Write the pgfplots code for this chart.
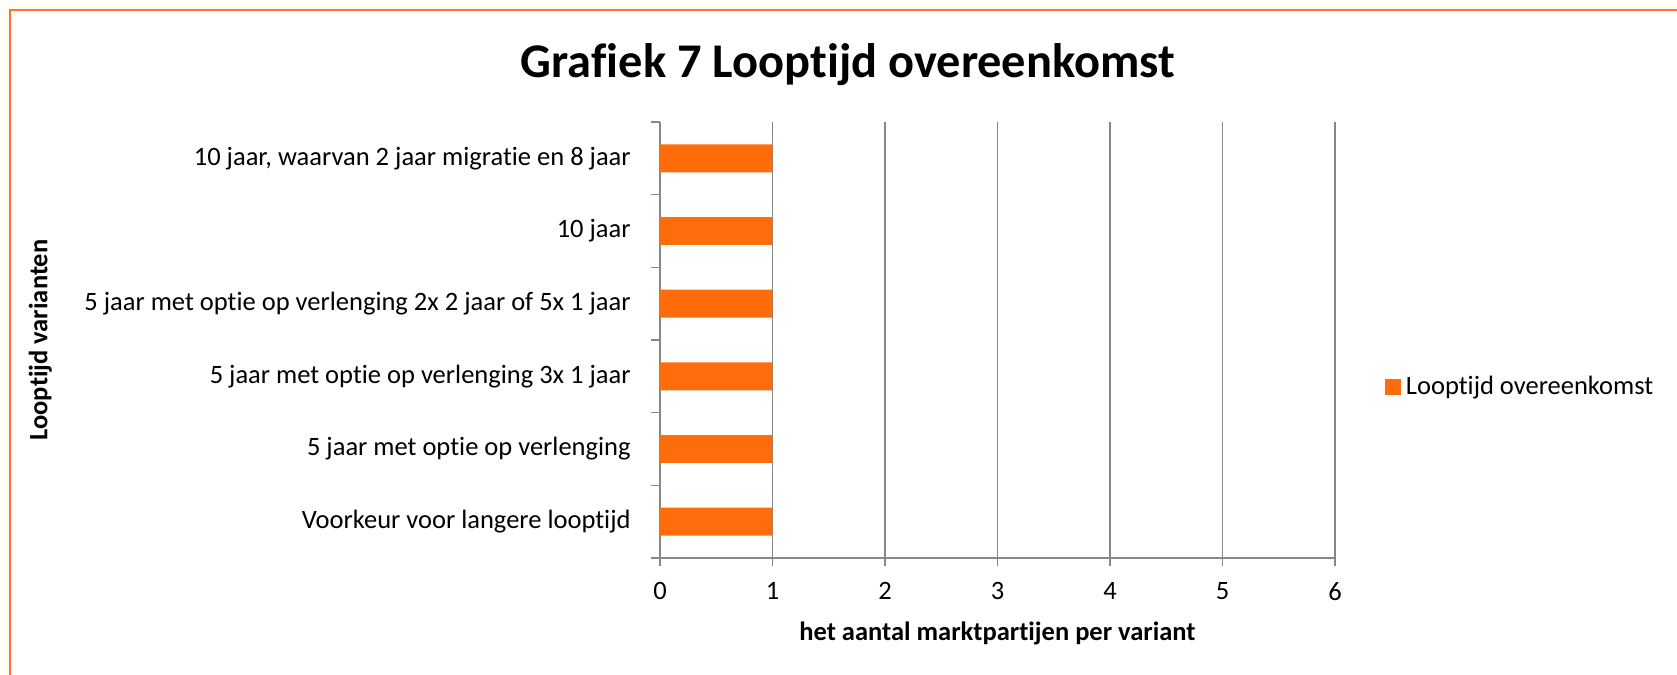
\documentclass[border=0pt]{standalone}
\usepackage{pgfplots}
\pgfplotsset{compat=1.18}
\usepackage{fontspec}
\setmainfont{Carlito}[Ligatures=NoCommon]
\definecolor{barorange}{HTML}{FF6C0C}
\definecolor{frameorange}{HTML}{FF7420}
\definecolor{gridgray}{HTML}{878787}
\begin{document}
\begin{tikzpicture}[x=0.5pt,y=-0.5pt]
\path[use as bounding box] (0,0) rectangle (1677,675);
\draw[frameorange, line width=1.1pt] (10,676) -- (10,10) -- (1678,10);
\coordinate (A) at (660,558);
\begin{axis}[
  at={(A)}, anchor=south west,
  scale only axis, width=337.5pt, height=218pt,
  xbar, bar width=0.385, bar shift=0pt,
  xmin=0, xmax=6, ymin=-0.5, ymax=5.5,
  xtick={0,1,2,3,4,5,6},
  ytick={0,1,2,3,4,5},
  yticklabels={Voorkeur voor langere looptijd,
    5 jaar met optie op verlenging,
    5 jaar met optie op verlenging 3x 1 jaar,
    5 jaar met optie op verlenging 2x 2 jaar of 5x 1 jaar,
    10 jaar,
    {10 jaar, waarvan 2 jaar migratie en 8 jaar}},
  minor ytick={-0.5,0.5,1.5,2.5,3.5,4.5,5.5},
  major y tick style={draw=none},
  minor tick length=4.5pt, major tick length=4pt,
  tick align=outside,
  axis x line*=bottom, axis y line*=left,
  axis line style={gridgray, line width=0.7pt, -},
  tick style={gridgray, line width=0.7pt},
  xmajorgrids=true, ymajorgrids=false,
  grid style={gridgray, line width=0.7pt},
  ticklabel style={font=\fontsize{13.25}{15}\selectfont, text=black},
  /pgf/number format/assume math mode=true,
  yticklabel style={anchor=east, inner sep=0pt, xshift=-10.5pt},
  xticklabel style={anchor=north, inner sep=0pt, yshift=-8pt},
  title={Grafiek 7 Looptijd overeenkomst},
  title style={font=\fontsize{24.2}{27}\selectfont\bfseries, at={(axis description cs:0.2785,1.105)}, anchor=center, yshift=0pt},
  xlabel={het aantal marktpartijen per variant},
  xlabel style={font=\fontsize{13.25}{15}\selectfont\bfseries, at={(axis description cs:0.5,-0.172)}, anchor=center},
  ylabel={Looptijd varianten},
  ylabel style={font=\fontsize{13.25}{15}\selectfont\bfseries, at={(axis description cs:-0.918,0.5)}, anchor=center, rotate=0},
  legend style={draw=none, fill=none, at={(axis description cs:1.074,0.392)}, anchor=west, inner sep=0pt, font=\fontsize{13.25}{15}\selectfont, nodes={inner sep=2.3pt}},
  legend image code/.code={\fill[#1] (0pt,-4pt) rectangle (8pt,4pt);},
]
\addplot[fill=barorange, draw=none] coordinates {(1,0) (1,1) (1,2) (1,3) (1,4) (1,5)};
\addlegendentry{Looptijd overeenkomst}
\end{axis}
\end{tikzpicture}
\end{document}
